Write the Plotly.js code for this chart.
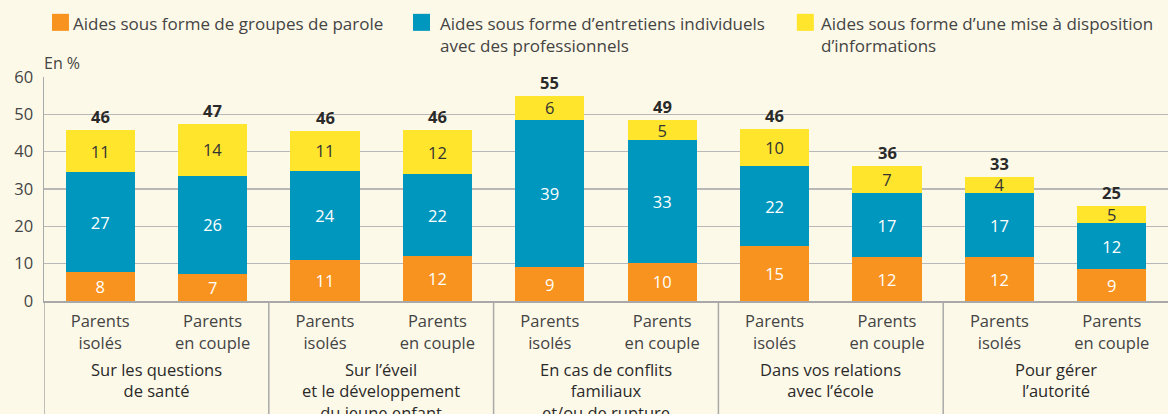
<!DOCTYPE html>
<html>
<head>
<meta charset="utf-8">
<script src="https://cdn.plot.ly/plotly-3.0.1.min.js"></script>
<style>
html,body{margin:0;padding:0;background:#fdf9e8;}
#chart{width:1168px;height:414px;}
</style>
</head>
<body>
<div id="chart"></div>
<script>
// ---- data ----
const subgroups = ["Parents<br>isolés", "Parents<br>en couple"];
const topics = [
  "Sur les questions<br>de santé",
  "Sur l’éveil<br>et le développement<br>du jeune enfant",
  "En cas de conflits<br>familiaux<br>et/ou de rupture",
  "Dans vos relations<br>avec l’école",
  "Pour gérer<br>l’autorité"
];
const seriesNames = [
  "Aides sous forme de groupes de parole",
  "Aides sous forme d’entretiens individuels<br>avec des professionnels",
  "Aides sous forme d’une mise à disposition<br>d’informations"
];
// values in %, order: (santé isolés, santé couple, éveil isolés, éveil couple, conflits isolés, conflits couple, école isolés, école couple, autorité isolés, autorité couple)
const groupesParole = [7.8, 7.2, 10.9, 12.0, 9.1, 10.2, 14.6, 11.7, 11.7, 8.51];
const entretiens    = [26.7, 26.4, 24.0, 21.9, 39.4, 32.9, 21.55, 17.1, 17.3, 12.3];
const informations  = [11.3, 13.7, 10.7, 12.0, 6.4, 5.3, 9.9, 7.4, 4.3, 4.55];
const totals        = [46, 47, 46, 46, 55, 49, 46, 36, 33, 25];

// ---- styles ----
const colors = ["#f7931e", "#0097be", "#ffe52c"];
const textColors = ["#ffffff", "#ffffff", "#333333"];
const FONT = "Open Sans, sans-serif";

const n = groupesParole.length;
const xs = groupesParole.map((_, i) => i);
const xLabels = xs.map(i => subgroups[i % subgroups.length]);
const seriesVals = [groupesParole, entretiens, informations];

const traces = seriesVals.map((vals, k) => ({
  type: "bar",
  x: xs,
  y: vals,
  name: seriesNames[k],
  marker: {color: colors[k], line: {width: 0}},
  width: 0.615,
  texttemplate: "%{y:.0f}",
  textposition: "inside",
  insidetextanchor: "middle",
  textangle: 0,
  constraintext: "none",
  insidetextfont: {family: FONT, size: 16.5, color: textColors[k]},
  hoverinfo: "skip",
  showlegend: false
}));

const annotations = [];
// totals on top of bars
xs.forEach(i => {
  const top = groupesParole[i] + entretiens[i] + informations[i];
  annotations.push({
    x: i, y: top, xref: "x", yref: "y",
    text: "<b>" + totals[i] + "</b>",
    showarrow: false, yanchor: "bottom", xanchor: "center",
    font: {family: FONT, size: 16.5, color: "#2a2a2a"}
  });
});
// topic labels below axis
topics.forEach((t, g) => {
  annotations.push({
    x: g * 2 + 0.5, y: -0.246, xref: "x", yref: "paper",
    text: t, showarrow: false, yanchor: "top", xanchor: "center",
    align: "center",
    font: {family: FONT, size: 16.5, color: "#2a2a2a"}
  });
});
// unit
annotations.push({
  x: -0.002, y: 1.064, xref: "paper", yref: "paper",
  text: "En %", showarrow: false, xanchor: "left", yanchor: "middle",
  font: {family: FONT, size: 16, color: "#444444"}
});

// legend (manual)
const legendPos = [[0.0071, 0.0238], [0.3283, 0.3503], [0.6698, 0.6892]];
const shapes = [];
seriesNames.forEach((nm, k) => {
  shapes.push({
    type: "rect", xref: "paper", yref: "paper",
    x0: legendPos[k][0], x1: legendPos[k][0] + 0.0151,
    y0: 1.206, y1: 1.282,
    fillcolor: colors[k], line: {width: 0}
  });
  annotations.push({
    x: legendPos[k][1], y: 1.297, xref: "paper", yref: "paper",
    text: nm, showarrow: false, xanchor: "left", yanchor: "top", align: "left",
    font: {family: FONT, size: 17, color: "#444444"}
  });
});
// vertical separators below axis
[-0.5, 1.5, 3.5, 5.5, 7.5].forEach(xv => {
  shapes.push({
    type: "line", xref: "x", yref: "paper",
    x0: xv, x1: xv, y0: 0, y1: -0.6,
    line: {color: "#a9a9a9", width: 1.5}
  });
});

const layout = {
  width: 1168, height: 414,
  margin: {l: 44, r: 0, t: 77.3, b: 112.7},
  paper_bgcolor: "#fdf9e8",
  plot_bgcolor: "#fdf9e8",
  barmode: "stack",
  font: {family: FONT, size: 16, color: "#444444"},
  uniformtext: {mode: "show", minsize: 16.5},
  xaxis: {
    range: [-0.5, n - 0.5],
    tickvals: xs, ticktext: xLabels,
    showgrid: false, zeroline: false,
    showline: true, linecolor: "#a9a9a9", linewidth: 1.5,
    ticks: "", ticklabelstandoff: 5,
    tickfont: {family: FONT, size: 16.5, color: "#444444"},
    fixedrange: true
  },
  yaxis: {
    range: [0, 60], dtick: 10, tick0: 0,
    showgrid: true, gridcolor: "#b8b8b8", gridwidth: 1.5,
    zeroline: false,
    showline: true, linecolor: "#a9a9a9", linewidth: 1.5,
    ticks: "", ticklabelstandoff: 6,
    tickfont: {family: FONT, size: 16.5, color: "#444444"},
    fixedrange: true
  },
  annotations: annotations,
  shapes: shapes,
  showlegend: false
};

Plotly.newPlot("chart", traces, layout, {displayModeBar: false, staticPlot: true});
</script>
</body>
</html>
